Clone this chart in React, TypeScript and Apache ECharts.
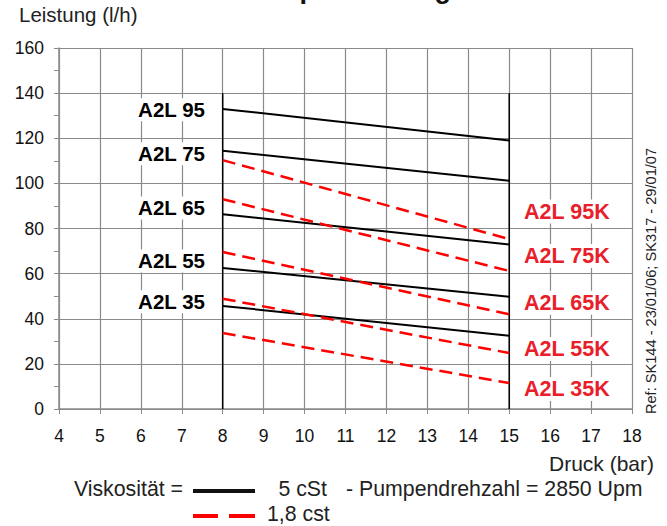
import React, { useEffect, useRef } from "react";
import * as echarts from "echarts";

const pressureRange = [8, 15];
const visc5Names = ["A2L 95", "A2L 75", "A2L 65", "A2L 55", "A2L 35"];
const visc5Start = [133.0, 114.5, 86.3, 62.5, 45.7];
const visc5End = [119.0, 101.2, 72.9, 49.8, 32.5];
const visc18Names = ["A2L 95K", "A2L 75K", "A2L 65K", "A2L 55K", "A2L 35K"];
const visc18Start = [110.3, 93.0, 69.6, 48.9, 33.7];
const visc18End = [75.3, 61.2, 42.0, 24.8, 11.5];
const boundaryTop = 140;
const leftLabelAt = { x: 7.64, y: [132.6, 113.1, 89.1, 65.6, 47.5] };
const rightLabelAt = { x: 16.41, y: [87.5, 67.8, 47.1, 26.6, 8.9] };

const FONT = "'Liberation Sans', Arial, sans-serif";

export default function App() {
  const ref = useRef<HTMLDivElement>(null);
  useEffect(() => {
    document.body.style.margin = "0";
    const chart = echarts.init(ref.current!, null, { renderer: "svg" });
    const series: any[] = [];
    visc5Names.forEach((n, i) => {
      series.push({
        name: n,
        type: "line",
        data: [
          [pressureRange[0], visc5Start[i]],
          [pressureRange[1], visc5End[i]],
        ],
        symbol: "none",
        lineStyle: { color: "#000", width: 2 },
        z: 4,
      });
    });
    visc18Names.forEach((n, i) => {
      series.push({
        name: n,
        type: "line",
        data: [
          [pressureRange[0], visc18Start[i]],
          [pressureRange[1], visc18End[i]],
        ],
        symbol: "none",
        lineStyle: { color: "#ff0000", width: 2.5, type: [13, 7] },
        z: 5,
      });
    });
    pressureRange.forEach((p) => {
      series.push({
        type: "line",
        data: [
          [p, 0],
          [p, boundaryTop],
        ],
        symbol: "none",
        lineStyle: { color: "#000", width: 1.5 },
        z: 3,
      });
    });

    chart.setOption({
      animation: false,
      grid: { left: 59, right: 35, top: 48, bottom: 117 },
      xAxis: {
        type: "value",
        min: 4,
        max: 18,
        interval: 1,
        axisLine: { lineStyle: { color: "#8a8a8a", width: 1.5 } },
        axisTick: { show: true, length: 5, lineStyle: { color: "#8a8a8a" } },
        axisLabel: { fontSize: 17.5, color: "#111", fontFamily: FONT, margin: 18 },
        splitLine: { show: true, lineStyle: { color: "#8a8a8a", width: 1.2 } },
      },
      yAxis: {
        type: "value",
        min: 0,
        max: 160,
        interval: 20,
        axisLine: { show: true, lineStyle: { color: "#8a8a8a", width: 1.5 } },
        axisTick: { show: true, length: 5, lineStyle: { color: "#8a8a8a" } },
        minorTick: { show: true, splitNumber: 2, length: 5, lineStyle: { color: "#8a8a8a" } },
        axisLabel: { fontSize: 17.5, color: "#111", fontFamily: FONT, margin: 15 },
        splitLine: { show: true, lineStyle: { color: "#8a8a8a", width: 1.2 } },
      },
      series,
    });

    const graphics: any[] = [];
    visc5Names.forEach((n, i) => {
      const [px, py] = chart.convertToPixel({ gridIndex: 0 }, [leftLabelAt.x, leftLabelAt.y[i]]);
      graphics.push({
        type: "text",
        x: px,
        y: py,
        z: 10,
        style: {
          text: n,
          font: `bold 20.5px ${FONT}`,
          fill: "#000",
          align: "right",
          verticalAlign: "middle",
          backgroundColor: "#fff",
          padding: [1, 3],
        },
      });
    });
    visc18Names.forEach((n, i) => {
      const [px, py] = chart.convertToPixel({ gridIndex: 0 }, [rightLabelAt.x, rightLabelAt.y[i]]);
      graphics.push({
        type: "text",
        x: px,
        y: py,
        z: 10,
        style: {
          text: n,
          font: `bold 21.5px ${FONT}`,
          fill: "#e8202a",
          align: "center",
          verticalAlign: "middle",
          backgroundColor: "#fff",
          padding: [1, 3],
        },
      });
    });
    graphics.push(
      {
        type: "text",
        x: 346,
        y: -11,
        style: { text: "Pumpenleistung", font: `bold 27px ${FONT}`, fill: "#111", align: "center", verticalAlign: "middle" },
      },
      {
        type: "text",
        x: 19,
        y: 14,
        style: { text: "Leistung (l/h)", font: `20.5px ${FONT}`, fill: "#222", align: "left", verticalAlign: "middle" },
      },
      {
        type: "text",
        x: 654,
        y: 463,
        style: { text: "Druck (bar)", font: `21px ${FONT}`, fill: "#222", align: "right", verticalAlign: "middle" },
      },
      {
        type: "text",
        x: 183,
        y: 489,
        style: { text: "Viskosität =", font: `21.3px ${FONT}`, fill: "#222", align: "right", verticalAlign: "middle" },
      },
      {
        type: "line",
        shape: { x1: 193, y1: 491, x2: 255, y2: 491 },
        style: { stroke: "#111", lineWidth: 4 },
      },
      {
        type: "text",
        x: 327,
        y: 489,
        style: { text: "5 cSt", font: `21.3px ${FONT}`, fill: "#222", align: "right", verticalAlign: "middle" },
      },
      {
        type: "text",
        x: 346,
        y: 489,
        style: { text: "- Pumpendrehzahl = 2850 Upm", font: `21.3px ${FONT}`, fill: "#222", align: "left", verticalAlign: "middle" },
      },
      {
        type: "line",
        shape: { x1: 193, y1: 516, x2: 218, y2: 516 },
        style: { stroke: "#ff0000", lineWidth: 4 },
      },
      {
        type: "line",
        shape: { x1: 229, y1: 516, x2: 255, y2: 516 },
        style: { stroke: "#ff0000", lineWidth: 4 },
      },
      {
        type: "text",
        x: 267,
        y: 514,
        style: { text: "1,8 cst", font: `21.3px ${FONT}`, fill: "#222", align: "left", verticalAlign: "middle" },
      },
      {
        type: "text",
        x: 651,
        y: 281,
        rotation: Math.PI / 2,
        style: {
          text: "Ref: SK144 - 23/01/06; SK317 - 29/01/07",
          font: `14.6px ${FONT}`,
          fill: "#222",
          align: "center",
          verticalAlign: "middle",
        },
      }
    );
    chart.setOption({ graphic: graphics });
    return () => chart.dispose();
  }, []);
  return <div ref={ref} style={{ width: 667, height: 526 }} />;
}
